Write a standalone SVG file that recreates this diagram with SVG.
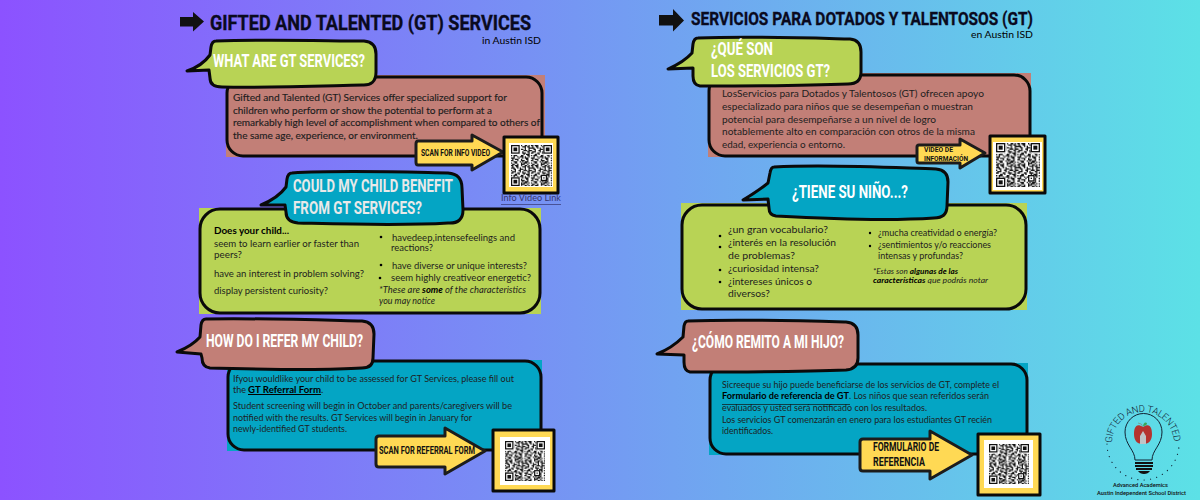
<svg xmlns="http://www.w3.org/2000/svg" width="1200" height="500" viewBox="0 0 1200 500">
<style>
.d{font-family:"Liberation Sans Narrow","Roboto","Liberation Sans",sans-serif;font-weight:700}
.h{font-size:18px;fill:#fff}
.t{fill:#0a0a1e;stroke:#0a0a1e;stroke-width:.35}
.a{fill:#111}
.b{font-family:"Lato","Noto Sans",sans-serif;font-size:10px;fill:#1e1e1e}
.s{font-size:9px}
.i{font-style:italic}
.w{font-weight:700;fill:#000}
.o{stroke:#0a0a0a;stroke-width:3;stroke-linejoin:round}
.yl{fill:#FFD954}.gr{fill:#B8D355}.pk{fill:#C27F77}.bl{fill:#04A5C4}
.ar{fill:#FFD954;stroke:#1c1c1c;stroke-width:3;stroke-linejoin:round}
#box-what-en text{stroke:#1e1e1e;stroke-width:.15}
</style>
<defs>
<linearGradient id="bg" x1="0" y1="0" x2="1" y2="0"><stop offset="0" stop-color="#8C52FF"/><stop offset="1" stop-color="#5CE1E6"/></linearGradient>
<pattern id="mod" width="16" height="16" patternUnits="userSpaceOnUse">
<path stroke="#111" stroke-width="1" fill="none" d="M0 .5h2m1 0h3m2 0h1m2 0h2m1 0h1M1 1.5h1m2 0h2m3 0h3m1 0h2M0 2.5h3m2 0h1m1 0h1m3 0h1m2 0h2M2 3.5h2m3 0h3m1 0h1m2 0h1M0 4.5h1m2 0h1m2 0h2m2 0h3m1 0h2M1 5.5h3m3 0h1m1 0h1m3 0h2M0 6.5h2m3 0h2m2 0h3m2 0h1M3 7.5h2m1 0h1m3 0h1m1 0h3M0 8.5h1m1 0h3m3 0h2m3 0h2M2 9.5h1m2 0h1m1 0h3m1 0h1m2 0h1M0 10.5h3m3 0h1m2 0h1m1 0h3M1 11.5h1m1 0h3m2 0h1m3 0h2M0 12.5h2m3 0h1m2 0h3m2 0h1M2 13.5h3m2 0h1m1 0h1m1 0h3M0 14.5h1m2 0h2m3 0h1m1 0h3m1 0h1M1 15.5h2m2 0h1m2 0h3m2 0h1"/>
</pattern>
<g id="fd"><rect width="8" height="8" fill="#fff"/><rect x="0.5" y="0.5" width="6" height="6" fill="none" stroke="#111"/><rect x="2" y="2" width="3" height="3" fill="#111"/></g>
<symbol id="qr" viewBox="0 0 33 33"><rect width="33" height="33" fill="url(#mod)"/><use href="#fd"/><use href="#fd" x="26"/><use href="#fd" y="26"/><rect x="24" y="24" width="5" height="5" fill="#fff"/><rect x="24.5" y="24.5" width="4" height="4" fill="none" stroke="#111"/><rect x="26" y="26" width="1" height="1" fill="#111"/></symbol>
</defs>
<rect width="1200" height="500" fill="url(#bg)"/>

<g id="title-en">
<path class="a" d="M180 17h13v-5l11 9.500-11 10v-5h-13z"/>
<text class="d t" x="210" y="30" font-size="21" textLength="321" lengthAdjust="spacingAndGlyphs">GIFTED AND TALENTED (GT) SERVICES</text>
<text class="b w" x="482" y="43.500" style="font-weight:400;font-size:9px" textLength="59" lengthAdjust="spacingAndGlyphs">in Austin ISD</text>
</g>
<g id="title-es">
<path class="a" d="M659 15h14v-6l11 11.500-11 11v-6h-14z"/>
<text class="d t" x="691" y="25" font-size="19" textLength="342" lengthAdjust="spacingAndGlyphs">SERVICIOS PARA DOTADOS Y TALENTOSOS (GT)</text>
<text class="b w" x="971" y="38" style="font-weight:400;font-size:9px" textLength="62" lengthAdjust="spacingAndGlyphs">en Austin ISD</text>
</g>

<g id="box-what-en">
<rect class="pk" x="226" y="75" width="319" height="82"/>
<rect class="pk o" x="227" y="77" width="315" height="79" rx="16"/>
<g class="b">
<text x="233" y="101" textLength="274" lengthAdjust="spacingAndGlyphs">Gifted and Talented (GT) Services offer specialized support for</text>
<text x="233" y="114" textLength="259" lengthAdjust="spacingAndGlyphs">children who perform or show the potential to perform at a</text>
<text x="233" y="126" textLength="307" lengthAdjust="spacingAndGlyphs">remarkably high level of accomplishment when compared to others of</text>
<text x="233" y="139" textLength="185" lengthAdjust="spacingAndGlyphs">the same age, experience, or environment.</text>
</g>
</g>
<g id="bubble-what-en">
<path class="gr o" d="M216 41C270 39 330 41 364 41Q376 42 376 54L376 72Q376 86 362 85C320 86 270 88 222 87Q210 87 210 78L209 70L187 71Q202 66 210 55L211 47Q212 41 216 41Z"/>
<text class="d h" x="213" y="67" textLength="152" lengthAdjust="spacingAndGlyphs">WHAT ARE GT SERVICES?</text>
</g>

<g id="box-benefit-en">
<rect class="gr" x="199" y="208" width="342" height="106"/>
<rect class="gr o" x="200" y="209" width="340" height="104" rx="20"/>
<g class="b">
<text class="w" x="214" y="234" textLength="75" lengthAdjust="spacingAndGlyphs">Does your child...</text>
<text x="214" y="247" textLength="145" lengthAdjust="spacingAndGlyphs">seem to learn earlier or faster than</text>
<text x="214" y="258" textLength="28" lengthAdjust="spacingAndGlyphs">peers?</text>
<text x="214" y="277" textLength="150" lengthAdjust="spacingAndGlyphs">have an interest in problem solving?</text>
<text x="214" y="294" textLength="114" lengthAdjust="spacingAndGlyphs">display persistent curiosity?</text>
<text x="392" y="241" textLength="123" lengthAdjust="spacingAndGlyphs">havedeep,intensefeelings and</text>
<text x="391" y="251" textLength="42" lengthAdjust="spacingAndGlyphs">reactions?</text>
<text x="392" y="269" textLength="135" lengthAdjust="spacingAndGlyphs">have diverse or unique interests?</text>
<text x="391" y="281" textLength="140" lengthAdjust="spacingAndGlyphs">seem highly creativeor energetic?</text>
<text class="i s" x="379" y="293" textLength="147" lengthAdjust="spacingAndGlyphs">*These are <tspan class="w">some</tspan> of the characteristics</text>
<text class="i s" x="379" y="304" textLength="56" lengthAdjust="spacingAndGlyphs">you may notice</text>
</g>
<circle cx="381" cy="237" r="1.300"/><circle cx="381" cy="265" r="1.300"/><circle cx="380" cy="278" r="1.300"/>
</g>
<g id="bubble-benefit-en">
<path class="bl o" d="M292 173C340 170 400 172 448 173Q462 174 462 188L463 210Q463 224 448 223C400 226 340 224 298 223Q286 222 286 212L285 205L261 205Q278 198 286 187L287 179Q288 173 292 173Z"/>
<g class="d h" style="fill:#e9e9e9"><text x="293" y="192" textLength="160" lengthAdjust="spacingAndGlyphs">COULD MY CHILD BENEFIT</text>
<text x="293" y="214" textLength="129" lengthAdjust="spacingAndGlyphs">FROM GT SERVICES?</text></g>
</g>

<g id="box-refer-en">
<rect class="bl" x="227" y="360" width="315" height="91"/>
<rect class="bl o" x="228" y="361" width="313" height="89" rx="16"/>
<g class="b">
<text x="233" y="382" textLength="281" lengthAdjust="spacingAndGlyphs">Ifyou wouldlike your child to be assessed for GT Services, please fill out</text>
<text x="233" y="393" textLength="13" lengthAdjust="spacingAndGlyphs">the</text>
<text class="w" x="248" y="393" text-decoration="underline" textLength="73" lengthAdjust="spacingAndGlyphs">GT Referral Form</text>
<text x="321" y="393">.</text>
<text x="233" y="409" textLength="279" lengthAdjust="spacingAndGlyphs">Student screening will begin in October and parents/caregivers will be</text>
<text x="233" y="421" textLength="239" lengthAdjust="spacingAndGlyphs">notified with the results. GT Services will begin in January for</text>
<text x="233" y="432" textLength="114" lengthAdjust="spacingAndGlyphs">newly-identified GT students.</text>
</g>
</g>
<g id="bubble-refer-en">
<path class="pk o" d="M206 319C260 318 320 320 362 321Q374 322 374 334L373 358Q373 368 362 368C320 371 260 369 210 368Q202 367 202 358L201 354L177 352Q192 346 200 337L201 325Q202 319 206 319Z"/>
<text class="d h" x="206" y="347" textLength="157" lengthAdjust="spacingAndGlyphs">HOW DO I REFER MY CHILD?</text>
</g>

<g id="box-what-es">
<rect class="pk" x="708" y="73" width="323" height="84"/>
<rect class="pk o" x="709" y="75" width="321" height="81" rx="16"/>
<g class="b">
<text x="722" y="97" textLength="262" lengthAdjust="spacingAndGlyphs">LosServicios para Dotados y Talentosos (GT) ofrecen apoyo</text>
<text x="722" y="110" textLength="251" lengthAdjust="spacingAndGlyphs">especializado para niños que se desempeñan o muestran</text>
<text x="722" y="123" textLength="214" lengthAdjust="spacingAndGlyphs">potencial para desempeñarse a un nivel de logro</text>
<text x="722" y="135" textLength="253" lengthAdjust="spacingAndGlyphs">notablemente alto en comparación con otros de la misma</text>
<text x="722" y="148" textLength="123" lengthAdjust="spacingAndGlyphs">edad, experiencia o entorno.</text>
</g>
</g>
<g id="bubble-what-es">
<path class="gr o" d="M698 38C750 36 810 38 850 39Q861 40 861 52L861 72Q861 84 848 84C800 86 750 86 700 86Q693 85 693 76L693 68L668 69Q684 62 692 53L693 44Q694 38 698 38Z"/>
<text class="d h" x="711" y="55" textLength="62" lengthAdjust="spacingAndGlyphs">¿QUÉ SON</text>
<text class="d h" x="711" y="77" textLength="119" lengthAdjust="spacingAndGlyphs">LOS SERVICIOS GT?</text>
</g>

<g id="box-child-es">
<rect class="gr" x="681" y="203" width="346" height="107"/>
<rect class="gr o" x="682" y="205" width="344" height="104" rx="20"/>
<g class="b">
<text x="728" y="233" textLength="100" lengthAdjust="spacingAndGlyphs">¿un gran vocabulario?</text>
<text x="728" y="246" textLength="108" lengthAdjust="spacingAndGlyphs">¿interés en la resolución</text>
<text x="728" y="259" textLength="67" lengthAdjust="spacingAndGlyphs">de problemas?</text>
<text x="728" y="272" textLength="91" lengthAdjust="spacingAndGlyphs">¿curiosidad intensa?</text>
<text x="728" y="285" textLength="84" lengthAdjust="spacingAndGlyphs">¿intereses únicos o</text>
<text x="728" y="297" textLength="42" lengthAdjust="spacingAndGlyphs">diversos?</text>
<text class="s" x="878" y="236" textLength="119" lengthAdjust="spacingAndGlyphs">¿mucha creatividad o energía?</text>
<text class="s" x="878" y="248" textLength="113" lengthAdjust="spacingAndGlyphs">¿sentimientos y/o reacciones</text>
<text class="s" x="878" y="259" textLength="85" lengthAdjust="spacingAndGlyphs">intensas y profundas?</text>
<text class="i" style="font-size:7.500px" x="873" y="274" textLength="85" lengthAdjust="spacingAndGlyphs">*Estas son <tspan class="w">algunas de las</tspan></text>
<text class="i" style="font-size:7.500px" x="873" y="283" textLength="115" lengthAdjust="spacingAndGlyphs"><tspan class="w">características</tspan> que podrás notar</text>
</g>
<circle cx="720" cy="236" r="1.300"/><circle cx="720" cy="247" r="1.300"/><circle cx="720" cy="270" r="1.300"/><circle cx="720" cy="282" r="1.300"/>
<circle cx="870" cy="233" r="1.200"/><circle cx="870" cy="246" r="1.200"/>
</g>
<g id="bubble-child-es">
<path class="bl o" d="M774 167C830 164 900 168 936 169Q948 170 948 182L947 206Q947 218 934 218C890 221 830 219 776 216Q769 215 769 208L768 199L743 200Q758 191 768 183L770 173Q771 167 774 167Z"/>
<text class="d h" x="792" y="198" textLength="116" lengthAdjust="spacingAndGlyphs">¿TIENE SU NIÑO...?</text>
</g>

<g id="box-refer-es">
<rect class="bl" x="709" y="363" width="319" height="92"/>
<rect class="bl o" x="710" y="364" width="317" height="90" rx="16"/>
<g class="b">
<text x="722" y="388" textLength="277" lengthAdjust="spacingAndGlyphs">Sicreeque su hijo puede beneficiarse de los servicios de GT, complete el</text>
<text class="w" x="722" y="399" textLength="127" lengthAdjust="spacingAndGlyphs">Formulario de referencia de GT</text>
<text x="849" y="399" textLength="140" lengthAdjust="spacingAndGlyphs">. Los niños que sean referidos serán</text>
<text x="722" y="411" textLength="205" lengthAdjust="spacingAndGlyphs">evaluados y usted será notificado con los resultados.</text>
<text x="722" y="423" textLength="270" lengthAdjust="spacingAndGlyphs">Los servicios GT comenzarán en enero para los estudiantes GT recién</text>
<text x="722" y="434" textLength="51" lengthAdjust="spacingAndGlyphs">identificados.</text>
</g>
<path d="M722 404.500h128" stroke="#111" stroke-width=".7"/>
</g>
<g id="bubble-refer-es">
<path class="pk o" d="M688 321C740 319 810 321 846 322Q858 323 858 335L858 358Q858 369 846 370C800 372 750 372 690 372Q684 371 684 362L684 355L657 354Q672 348 683 337L684 326Q685 321 688 321Z"/>
<text class="d h" x="692" y="348" textLength="152" lengthAdjust="spacingAndGlyphs">¿CÓMO REMITO A MI HIJO?</text>
</g>

<g id="connectors">
<g id="arrow-info-en"><path class="ar" d="M418 141H472V135L503 152L472 170V165H418Q416 165 416 162V144Q416 141 418 141Z"/>
<text class="d" x="421" y="156" font-size="9.500" fill="#111" textLength="69" lengthAdjust="spacingAndGlyphs">SCAN FOR INFO VIDEO</text></g>
<g id="arrow-refer-en"><path class="ar" d="M379 436H445V428L485 451L445 474V467H379Q376 467 376 464V439Q376 436 379 436Z"/>
<text class="d" x="379" y="454" font-size="10.500" fill="#111" textLength="96" lengthAdjust="spacingAndGlyphs">SCAN FOR REFERRAL FORM</text></g>
<g id="arrow-info-es"><path class="ar" d="M919 145H960V139L985 153L960 168V163H919Q917 163 917 161V147Q917 145 919 145Z"/>
<g class="d" font-size="8" fill="#111"><text x="924" y="151.500" textLength="29" lengthAdjust="spacingAndGlyphs">VIDEO DE</text>
<text x="924" y="161" textLength="44" lengthAdjust="spacingAndGlyphs">INFORMACIÓN</text></g></g>
<g id="arrow-refer-es"><path class="ar" d="M863 439H930V431L972 455L930 479V471H863Q860 471 860 468V442Q860 439 863 439Z"/>
<g class="d" font-size="12" fill="#111"><text x="873" y="451" textLength="66" lengthAdjust="spacingAndGlyphs">FORMULARIO DE</text>
<text x="873" y="466" textLength="52" lengthAdjust="spacingAndGlyphs">REFERENCIA</text></g></g>
</g>

<g id="qr-info-en">
<rect class="yl o" x="504" y="137" width="54" height="56"/><rect x="509" y="143" width="44" height="44" fill="#fff"/><use href="#qr" x="511" y="145" width="41" height="41"/>
<text class="b" x="501" y="201" style="fill:#35356e;font-size:9px" textLength="60" lengthAdjust="spacingAndGlyphs">Info Video Link</text>
<path d="M501 204.500h60" stroke="#35356e" stroke-width=".7"/>
</g>
<g id="qr-refer-en">
<rect class="yl o" x="493" y="430" width="61" height="61"/><rect x="500" y="437" width="50" height="48" fill="#fff"/><use href="#qr" x="504" y="441" width="42" height="40"/>
</g>
<g id="qr-info-es">
<rect class="yl o" x="990" y="136" width="55" height="57"/><rect x="993" y="142" width="49" height="48" fill="#fff"/><use href="#qr" x="996" y="143" width="44" height="44"/>
</g>
<g id="qr-refer-es">
<rect class="yl o" x="978" y="434" width="62" height="61"/><rect x="984" y="440" width="49" height="48" fill="#fff"/><use href="#qr" x="989" y="444" width="40" height="40"/>
</g>

<g id="logo">
<path id="arc" fill="none" d="M1112 443A31 31 0 1 1 1174 443"/>
<text font-family="Roboto,sans-serif" font-size="9.500" font-weight="300" fill="#123" textLength="96" lengthAdjust="spacing"><textPath href="#arc">GIFTED AND TALENTED</textPath></text>
<path d="M1107 444A36 36 0 0 0 1179 444" fill="none" stroke="#123" stroke-width="1.200" stroke-linecap="round" stroke-dasharray=".1 6.300"/>
<path d="M1135 460C1135 450 1125 445 1125 432A18.500 18.500 0 1 1 1162 432C1162 445 1152 450 1152 460Z" fill="none" stroke="#123" stroke-width="1"/>
<path d="M1135 462h18v2h-18zM1135 465h18v2h-18zM1136 468h16v2h-16zM1138 471h12q-2 3-6 3t-6-3z" fill="#111"/>
<path d="M1143 427C1136 422 1134 428 1134 434C1134 442 1139 445 1143 443C1147 445 1152 442 1152 434C1152 428 1150 422 1143 427Z" fill="#B5332E"/>
<path d="M1140 444v-8l3-5 3 5v8z" fill="#bfc4c6"/>
<path d="M1143 426Q1144 421 1147 423Q1147 426 1143 426Z" fill="#3aa655"/>
<path d="M1143 427Q1142 423 1138 423" fill="none" stroke="#8a7a66" stroke-width=".6"/>
<g font-family="Roboto,sans-serif" font-size="6" font-weight="500" fill="#111"><text x="1113" y="487" textLength="55" lengthAdjust="spacingAndGlyphs">Advanced Academics</text>
<text x="1097" y="495" textLength="89" lengthAdjust="spacingAndGlyphs">Austin Independent School District</text></g>
</g>
</svg>
